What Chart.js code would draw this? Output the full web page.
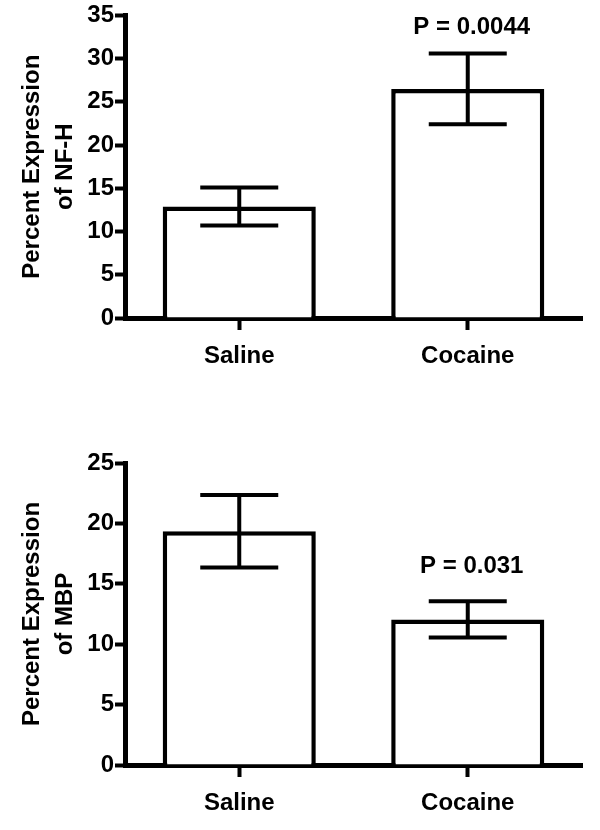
<!DOCTYPE html>
<html>
<head>
<meta charset="utf-8">
<script src="https://cdn.jsdelivr.net/npm/chart.js@4.4.1/dist/chart.umd.min.js"></script>
<style>
  body { margin: 0; background: #fff; }
  .panel { position: absolute; left: 0; width: 600px; height: 415px; }
</style>
</head>
<body>
<div class="panel" style="top:0"><canvas id="graficoNFH" width="600" height="415"></canvas></div>
<div class="panel" style="top:415px"><canvas id="graficoMBP" width="600" height="415"></canvas></div>
<script>
// categorias del eje X
const grupos = ["Saline", "Cocaine"];

// panel de arriba: NF-H
const nfhMedia = [12.9, 26.5];
const nfhError = [2.2, 4.1];
const nfhP = ["", "P = 0.0044"];
const nfhTicks = [0, 5, 10, 15, 20, 25, 30, 35];

// panel de abajo: MBP
const mbpMedia = [19.35, 12.05];
const mbpError = [3.0, 1.5];
const mbpP = ["", "P = 0.031"];
const mbpTicks = [0, 5, 10, 15, 20, 25];

const fuente = '"Liberation Sans Narrow", "Liberation Sans", Arial, sans-serif';

// dibuja las barras de error y el valor P encima de cada barra
const barrasError = {
  id: "barrasError",
  afterDatasetsDraw(chart, args, opts) {
    const ctx = chart.ctx;
    const escalaY = chart.scales.y;
    const meta = chart.getDatasetMeta(0);
    ctx.save();
    ctx.strokeStyle = "#000";
    ctx.lineWidth = 4;
    meta.data.forEach(function (barra, i) {
      const m = opts.medias[i];
      const e = opts.errores[i];
      const yArriba = escalaY.getPixelForValue(m + e);
      const yAbajo = escalaY.getPixelForValue(m - e);
      const x = barra.x;
      ctx.beginPath();
      ctx.moveTo(x, yArriba);
      ctx.lineTo(x, yAbajo);
      ctx.moveTo(x - 39, yArriba);
      ctx.lineTo(x + 39, yArriba);
      ctx.moveTo(x - 39, yAbajo);
      ctx.lineTo(x + 39, yAbajo);
      ctx.stroke();
      if (opts.pValores[i]) {
        ctx.fillStyle = "#000";
        ctx.font = "bold 24px " + fuente;
        ctx.textAlign = "center";
        ctx.textBaseline = "middle";
        ctx.fillText(opts.pValores[i], x + 4, yArriba - opts.separacion);
      }
    });
    ctx.restore();
  }
};

function crearGrafico(id, medias, errores, pValores, ticks, titulo, arriba, altoX, separacion) {
  return new Chart(id, {
    type: "bar",
    data: {
      labels: grupos,
      datasets: [{
        data: medias,
        backgroundColor: "#fff",
        borderColor: "#000",
        borderWidth: 4.5,
        categoryPercentage: 1,
        barPercentage: 0.67
      }]
    },
    options: {
      responsive: false,
      devicePixelRatio: 1,
      animation: false,
      layout: { padding: { top: arriba, right: 18, left: 0, bottom: 0 } },
      plugins: {
        legend: { display: false },
        tooltip: { enabled: false },
        barrasError: { medias: medias, errores: errores, pValores: pValores, separacion: separacion }
      },
      scales: {
        x: {
          grid: { drawOnChartArea: false, offset: false, tickLength: 12, tickWidth: 4, color: "#000" },
          border: { color: "#000", width: 5 },
          ticks: { color: "#000", padding: 12, font: { family: fuente, size: 24, weight: "bold" } },
          afterFit: function (escala) { escala.height = altoX; }
        },
        y: {
          min: ticks[0],
          max: ticks[ticks.length - 1],
          afterBuildTicks: function (escala) { escala.ticks = ticks.map(v => ({ value: v })); },
          grid: { drawOnChartArea: false, tickLength: 10, tickWidth: 4, color: "#000" },
          border: { color: "#000", width: 5 },
          ticks: { color: "#000", padding: 1, font: { family: fuente, size: 24, weight: "bold" } },
          title: {
            display: true,
            text: titulo,
            color: "#000",
            padding: { top: 16, bottom: 0 },
            font: { family: fuente, size: 24, weight: "bold", lineHeight: 1.375 }
          },
          afterFit: function (escala) { escala.width = 125; }
        }
      }
    },
    plugins: [barrasError]
  });
}

crearGrafico("graficoNFH", nfhMedia, nfhError, nfhP, nfhTicks, ["Percent Expression", "of NF-H"], 15, 97, 26);
crearGrafico("graficoMBP", mbpMedia, mbpError, mbpP, mbpTicks, ["Percent Expression", "of MBP"], 48, 65, 35);
</script>
</body>
</html>
